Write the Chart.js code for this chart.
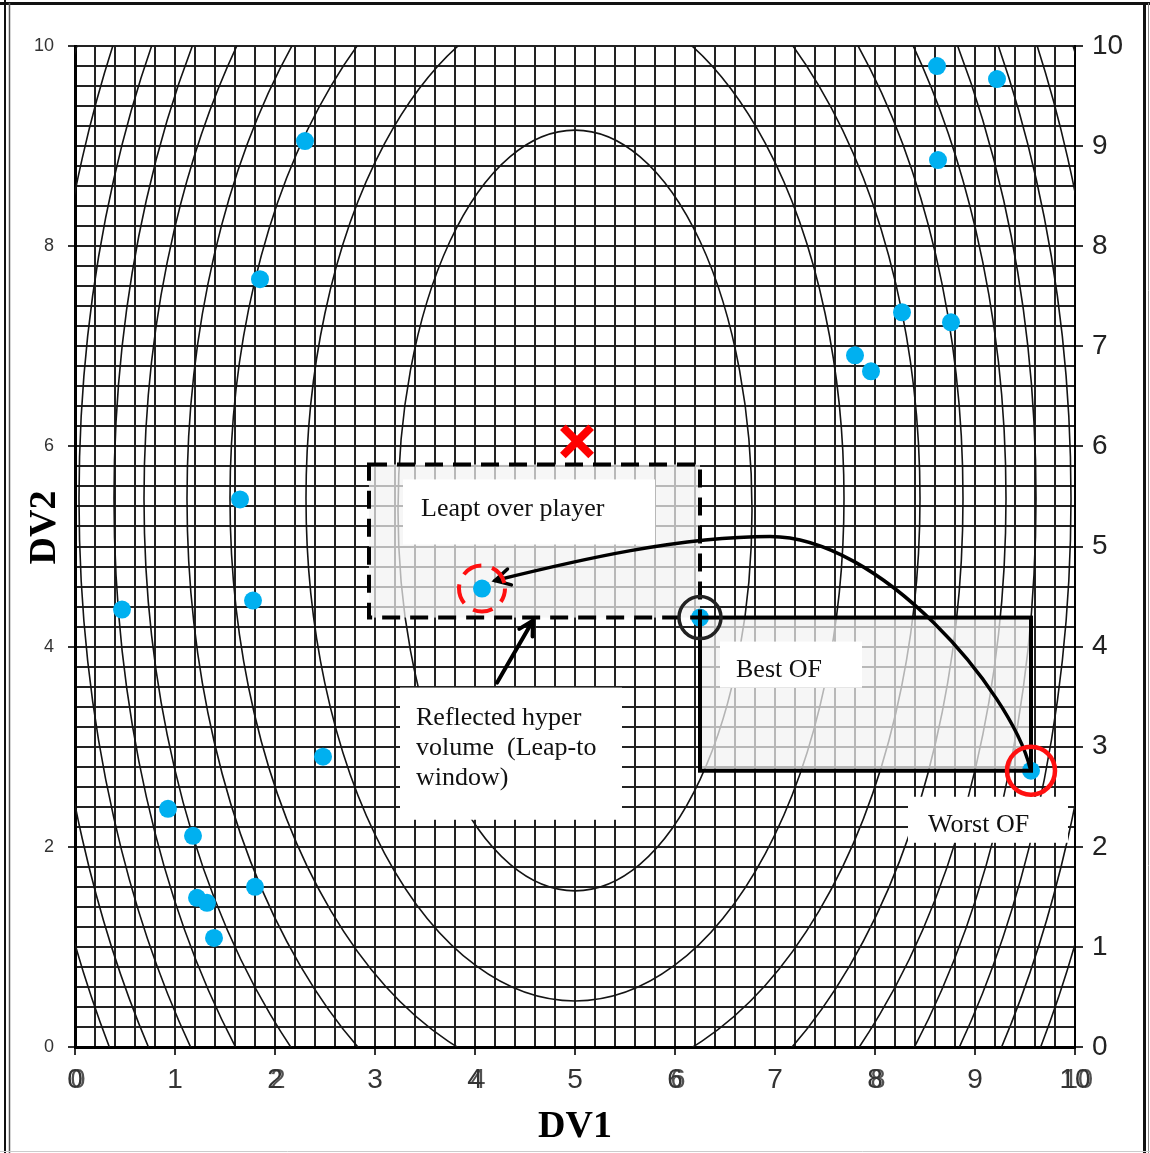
<!DOCTYPE html>
<html>
<head>
<meta charset="utf-8">
<script src="https://cdn.jsdelivr.net/npm/chart.js@4.4.1/dist/chart.umd.min.js"></script>
<style>
  html, body { margin: 0; padding: 0; background: #fff; }
  #wrap { width: 1150px; height: 1153px; }
</style>
</head>
<body>
<div id="wrap"><canvas id="c" width="1150" height="1153"></canvas></div>
<script>
// Player positions in decision-variable space
const playerDV1 = [2.30, 1.85, 1.65, 1.78, 0.47, 2.48, 0.93, 1.18, 1.22, 1.32, 1.80, 1.39,
                   4.07, 6.25, 9.56, 8.62, 9.22, 8.63, 8.27, 8.76, 7.80, 7.96];
const playerDV2 = [9.05, 7.67, 5.47, 4.46, 4.37, 2.90, 2.38, 2.11, 1.49, 1.44, 1.60, 1.09,
                   4.58, 4.29, 2.76, 9.80, 9.67, 8.86, 7.34, 7.24, 6.91, 6.75];

// Highlighted players
const bestOF = [6.25, 4.29];
const worstOF = [9.56, 2.76];
const leaptPlayer = [4.07, 4.58];
const optimum = [5.02, 6.05];

// Objective-function contour levels (ellipses centred on DV1 = 5)
const contourCentreDV1 = 5;
const contourCentreDV2 = [5.36, 5.48, 5.48, 5.48, 5.48, 5.48, 5.48, 5.48, 5.48];
const contourHalfDV1 = [1.77, 2.69, 3.45, 3.88, 4.31, 4.61, 4.96, 5.30, 5.61];
const contourHalfDV2 = [3.80, 5.02, 5.83, 6.61, 7.29, 8.10, 8.67, 9.23, 9.82];

// Tick labels
const xTickLabels = [0, 1, 2, 3, 4, 5, 6, 7, 8, 9, 10];
const xSecondTickLabels = [0, 2, 4, 6, 8, 10];
const yLeftTickLabels = [0, 2, 4, 6, 8, 10];
const yRightTickLabels = [0, 1, 2, 3, 4, 5, 6, 7, 8, 9, 10];

// Hyper-volume spanned by best and worst, and its reflection about the best player
const hyperVolume = { x1: bestOF[0], y1: bestOF[1], x2: worstOF[0], y2: worstOF[1] };
const leapWindow = {
  x1: bestOF[0] - (worstOF[0] - bestOF[0]), y1: bestOF[1] + (bestOF[1] - worstOF[1]),
  x2: bestOF[0], y2: bestOF[1]
};

// Callout boxes (data units) and their text
const callouts = [
  { lines: ['Leapt over player'], box: [3.28, 5.67, 5.80, 5.02], dx: 18, dy: 37 },
  { lines: ['Best OF'], box: [6.45, 4.05, 7.87, 3.59], dx: 16, dy: 35 },
  { lines: ['Reflected hyper', 'volume  (Leap-to', 'window)'], box: [3.25, 3.59, 5.47, 2.27], dx: 16, dy: 37 },
  { lines: ['Worst OF'], box: [8.33, 2.50, 9.93, 2.04], dx: 20, dy: 35 }
];

// Leap trajectory: two cubic segments through the apex (data units)
const leapRise = { p0: [9.55, 2.79], c1: [9.35, 3.57], c2: [8.05, 5.10], apex: [6.95, 5.10] };
const leapFall = { c1: [6.05, 5.10], c2: [5.05, 4.87], tip: [4.20, 4.66] };
const windowPointer = { tail: [4.22, 3.64], tip: [4.58, 4.26] };

const isWhole = v => Math.abs(v - Math.round(v)) < 1e-6;
const SANS = "'Liberation Sans', Arial, sans-serif";
const SERIF = "'Liberation Serif', 'Times New Roman', serif";

function arrowHead(ctx, tx, ty, fx, fy, len, spread) {
  const a = Math.atan2(ty - fy, tx - fx);
  ctx.beginPath();
  ctx.moveTo(tx - len * Math.cos(a - spread), ty - len * Math.sin(a - spread));
  ctx.lineTo(tx, ty);
  ctx.lineTo(tx - len * Math.cos(a + spread), ty - len * Math.sin(a + spread));
  ctx.stroke();
}

const backgroundPlugin = {
  id: 'background',
  beforeDraw(chart) {
    const ctx = chart.ctx;
    ctx.save();
    ctx.fillStyle = '#fff';
    ctx.fillRect(0, 0, chart.width, chart.height);
    ctx.restore();
  }
};

const underlayPlugin = {
  id: 'underlay',
  beforeDatasetsDraw(chart) {
    const { ctx, chartArea: area, scales: { x, y } } = chart;
    const X = v => x.getPixelForValue(v), Y = v => y.getPixelForValue(v);
    ctx.save();
    ctx.beginPath();
    ctx.rect(area.left, area.top, area.width, area.height);
    ctx.clip();

    // contours
    ctx.strokeStyle = '#141414';
    ctx.lineWidth = 1.6;
    const cx = X(contourCentreDV1);
    for (let i = 0; i < contourHalfDV1.length; i++) {
      const cy = Y(contourCentreDV2[i]);
      const rx = X(contourCentreDV1 + contourHalfDV1[i]) - cx;
      const ry = cy - Y(contourCentreDV2[i] + contourHalfDV2[i]);
      ctx.beginPath();
      ctx.ellipse(cx, cy, rx, ry, 0, 0, Math.PI * 2);
      ctx.stroke();
    }

    // shaded windows
    ctx.fillStyle = 'rgba(243,243,243,0.72)';
    [hyperVolume, leapWindow].forEach(r => {
      const l = X(Math.min(r.x1, r.x2)), rr = X(Math.max(r.x1, r.x2));
      const t = Y(Math.max(r.y1, r.y2)), b = Y(Math.min(r.y1, r.y2));
      ctx.fillRect(l, t, rr - l, b - t);
    });

    // callouts
    ctx.font = '26px ' + SERIF;
    ctx.textBaseline = 'alphabetic';
    ctx.textAlign = 'left';
    callouts.forEach(c => {
      const l = X(c.box[0]), t = Y(c.box[1]), r = X(c.box[2]), b = Y(c.box[3]);
      ctx.fillStyle = '#fff';
      ctx.fillRect(l, t, r - l, b - t);
      ctx.fillStyle = '#111';
      c.lines.forEach((line, k) => ctx.fillText(line, l + c.dx, t + c.dy + k * 30));
    });
    ctx.restore();
  }
};

const overlayPlugin = {
  id: 'overlay',
  afterDatasetsDraw(chart) {
    const { ctx, scales: { x, y } } = chart;
    const X = v => x.getPixelForValue(v), Y = v => y.getPixelForValue(v);
    ctx.save();
    ctx.strokeStyle = '#000';
    ctx.lineWidth = 4;
    ctx.lineJoin = 'miter';

    // hyper-volume (solid) and leap-to window (dashed)
    ctx.strokeRect(X(hyperVolume.x1), Y(hyperVolume.y1),
                   X(hyperVolume.x2) - X(hyperVolume.x1), Y(hyperVolume.y2) - Y(hyperVolume.y1));
    ctx.setLineDash([18, 10]);
    ctx.strokeRect(X(leapWindow.x1), Y(leapWindow.y1),
                   X(leapWindow.x2) - X(leapWindow.x1), Y(leapWindow.y2) - Y(leapWindow.y1));
    ctx.setLineDash([]);

    // leap trajectory
    ctx.lineWidth = 3.5;
    ctx.lineCap = 'round';
    ctx.beginPath();
    ctx.moveTo(X(leapRise.p0[0]), Y(leapRise.p0[1]));
    ctx.bezierCurveTo(X(leapRise.c1[0]), Y(leapRise.c1[1]),
                      X(leapRise.c2[0]), Y(leapRise.c2[1]),
                      X(leapRise.apex[0]), Y(leapRise.apex[1]));
    ctx.bezierCurveTo(X(leapFall.c1[0]), Y(leapFall.c1[1]),
                      X(leapFall.c2[0]), Y(leapFall.c2[1]),
                      X(leapFall.tip[0]), Y(leapFall.tip[1]));
    ctx.stroke();
    arrowHead(ctx, X(leapFall.tip[0]), Y(leapFall.tip[1]),
              X(leapFall.c2[0]), Y(leapFall.c2[1]), 17, 0.5);

    // pointer to the window
    ctx.lineWidth = 4;
    ctx.beginPath();
    ctx.moveTo(X(windowPointer.tail[0]), Y(windowPointer.tail[1]));
    ctx.lineTo(X(windowPointer.tip[0]), Y(windowPointer.tip[1]));
    ctx.stroke();
    arrowHead(ctx, X(windowPointer.tip[0]), Y(windowPointer.tip[1]),
              X(windowPointer.tail[0]), Y(windowPointer.tail[1]), 16, 0.5);
    ctx.lineCap = 'butt';

    // rings
    ctx.lineWidth = 3.5;
    ctx.strokeStyle = '#222';
    ctx.beginPath();
    ctx.arc(X(bestOF[0]), Y(bestOF[1]), 21, 0, Math.PI * 2);
    ctx.stroke();

    ctx.lineWidth = 4.5;
    ctx.strokeStyle = '#ff1010';
    ctx.beginPath();
    ctx.arc(X(worstOF[0]), Y(worstOF[1]), 24, 0, Math.PI * 2);
    ctx.stroke();

    ctx.lineWidth = 4;
    ctx.setLineDash([20, 11]);
    ctx.lineDashOffset = 6;
    ctx.beginPath();
    ctx.arc(X(leaptPlayer[0]), Y(leaptPlayer[1]), 23, 0, Math.PI * 2);
    ctx.stroke();
    ctx.restore();
  },
  afterDraw(chart) {
    const { ctx, scales: { x } } = chart;
    ctx.save();
    // second set of bottom labels, slightly offset
    ctx.font = '27px ' + SANS;
    ctx.fillStyle = 'rgba(50,50,50,0.85)';
    ctx.textAlign = 'center';
    ctx.textBaseline = 'middle';
    xSecondTickLabels.forEach(v => ctx.fillText(String(v), x.getPixelForValue(v) + 3, 1081));

    // page frame
    ctx.strokeStyle = '#111';
    ctx.lineWidth = 3;
    ctx.beginPath(); ctx.moveTo(0, 3.5); ctx.lineTo(1150, 3.5); ctx.stroke();
    ctx.lineWidth = 2;
    ctx.beginPath(); ctx.moveTo(5, 0); ctx.lineTo(5, 1153); ctx.stroke();
    ctx.lineWidth = 1.5;
    ctx.strokeStyle = '#555';
    ctx.beginPath(); ctx.moveTo(9.5, 3); ctx.lineTo(9.5, 1153); ctx.stroke();
    ctx.strokeStyle = '#111';
    ctx.lineWidth = 3;
    ctx.beginPath(); ctx.moveTo(1144.5, 3); ctx.lineTo(1144.5, 1153); ctx.stroke();
    ctx.strokeStyle = '#888';
    ctx.lineWidth = 1;
    ctx.beginPath(); ctx.moveTo(1148.5, 3); ctx.lineTo(1148.5, 1153); ctx.stroke();
    ctx.strokeStyle = '#ccc';
    ctx.beginPath(); ctx.moveTo(0, 1151.5); ctx.lineTo(1150, 1151.5); ctx.stroke();
    ctx.restore();
  }
};

new Chart(document.getElementById('c'), {
  type: 'scatter',
  data: {
    datasets: [
      {
        label: 'Players',
        data: playerDV1.map((v, i) => ({ x: v, y: playerDV2[i] })),
        pointRadius: 9,
        pointBackgroundColor: '#00B0F0',
        pointBorderWidth: 0
      },
      {
        label: 'Optimum',
        data: [{ x: optimum[0], y: optimum[1] }],
        pointStyle: 'crossRot',
        pointRadius: 20,
        pointBorderColor: '#ff0000',
        pointBorderWidth: 8
      }
    ]
  },
  options: {
    responsive: false,
    animation: false,
    events: [],
    layout: { padding: { top: 46, left: 0, right: 0, bottom: 0 } },
    plugins: { legend: { display: false }, tooltip: { enabled: false }, title: { display: false } },
    scales: {
      x: {
        type: 'linear', position: 'bottom', min: 0, max: 10,
        ticks: {
          stepSize: 0.2, maxTicksLimit: 60, autoSkip: false, maxRotation: 0, minRotation: 0,
          padding: 8, color: '#333', font: { family: SANS, size: 28 },
          callback: v => (isWhole(v) && xTickLabels.includes(Math.round(v))) ? String(Math.round(v)) : ''
        },
        grid: {
          color: '#222', lineWidth: 2, tickLength: 8, tickWidth: 2,
          tickColor: c => isWhole(c.tick.value) ? '#333' : 'rgba(0,0,0,0)'
        },
        border: { color: '#000', width: 3 },
        title: {
          display: true, text: 'DV1', color: '#000',
          font: { family: SERIF, size: 38, weight: 'bold' }, padding: { top: 0, bottom: 3 }
        },
        afterFit: s => { s.height = 106; }
      },
      y: {
        type: 'linear', position: 'left', min: 0, max: 10,
        ticks: {
          stepSize: 0.2, maxTicksLimit: 60, autoSkip: false, padding: 14,
          color: '#333', font: { family: SANS, size: 18 },
          callback: v => (isWhole(v) && yLeftTickLabels.includes(Math.round(v))) ? String(Math.round(v)) : ''
        },
        grid: {
          color: '#222', lineWidth: 2, tickLength: 7, tickWidth: 2,
          tickColor: c => (isWhole(c.tick.value) && yLeftTickLabels.includes(Math.round(c.tick.value))) ? '#333' : 'rgba(0,0,0,0)'
        },
        border: { color: '#000', width: 3 },
        title: {
          // leading no-break spaces lift the rotated title slightly above the axis centre
          display: true, text: '\u00A0\u00A0\u00A0\u00A0DV2', color: '#000',
          font: { family: SERIF, size: 38, weight: 'bold' }, padding: { top: 22, bottom: 0 }
        },
        afterFit: s => { s.width = 75; }
      },
      y2: {
        type: 'linear', position: 'right', min: 0, max: 10,
        ticks: {
          stepSize: 1, autoSkip: false, padding: 9, color: '#222',
          font: { family: SANS, size: 28 },
          callback: v => yRightTickLabels.includes(v) ? String(v) : ''
        },
        grid: { drawOnChartArea: false, color: '#333', lineWidth: 2, tickLength: 8 },
        border: { color: '#000', width: 2 },
        afterFit: s => { s.width = 75; }
      }
    }
  },
  plugins: [backgroundPlugin, underlayPlugin, overlayPlugin]
});
</script>
</body>
</html>
